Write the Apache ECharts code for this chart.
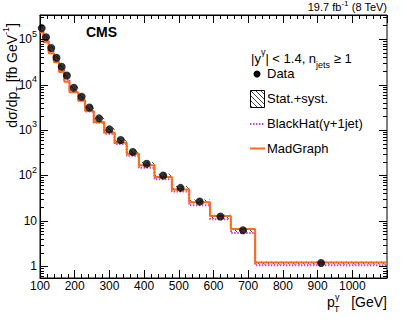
<!DOCTYPE html>
<html><head><meta charset="utf-8">
<script src="https://cdn.jsdelivr.net/npm/echarts@6/dist/echarts.min.js"></script>
<style>html,body{margin:0;padding:0;background:#fff}#c{width:407px;height:322px}</style>
</head><body><div id="c"></div>
<script>
// ---- data ----
const binEdges = [100,110,125,140,155,170,185,210,230,255,285,315,350,385,430,480,530,590,650,720,1100];
const dataXsec = [1.75e5,1.10e5,6.4e4,3.9e4,2.46e4,1.58e4,8.5e3,5.4e3,3.13e3,1.80e3,1030,600,326,180,99,53,26.7,12.4,6.2,1.18];
const dataRelErr = [0.10,0.10,0.10,0.10,0.10,0.10,0.10,0.10,0.10,0.10,0.10,0.10,0.10,0.10,0.10,0.10,0.10,0.10,0.10,0.08];
const madgraph = [1.40e5,8.5e4,4.9e4,3.1e4,1.9e4,1.15e4,6.8e3,4.4e3,2.6e3,1.50e3,880,520,300,168,92,49,25.5,12.8,6.6,1.20];
const blackhat = [1.50e5,9.5e4,5.4e4,3.3e4,2.1e4,1.30e4,7.0e3,4.5e3,2.55e3,1.45e3,830,490,270,148,82,44,22,10.8,5.4,1.05];
const xTickLabels = ['100','200','300','400','500','600','700','800','900','1000'];
const yMajorTicks = [1,10,100,1000,10000,100000];

const X_MIN = 100, X_MAX = 1100, Y_MIN = 0.55, Y_MAX = 3.4e5;
const FONT = 'Liberation Sans, Arial, Helvetica, sans-serif';

// hatch pattern
const pc = document.createElement('canvas');
pc.width = 5; pc.height = 5;
const g = pc.getContext('2d');
g.strokeStyle = '#333'; g.lineWidth = 0.9;
g.beginPath(); g.moveTo(-1,-1); g.lineTo(6,6); g.moveTo(-1,4); g.lineTo(1,6); g.moveTo(4,-1); g.lineTo(6,1); g.stroke();
const hatch = {image: pc.toDataURL(), repeat: 'repeat'};

// y tick positions (1..9 x 10^k inside range)
const yTickVals = [];
for (let k = -1; k <= 5; k++) for (let m = 1; m <= 9; m++) { const v = m * Math.pow(10, k); if (v > Y_MIN && v < Y_MAX) yTickVals.push(v); }
const isMajor = v => yMajorTicks.some(t => Math.abs(t - v) / t < 1e-9);

const n = dataXsec.length;
const stepData = arr => binEdges.map((e, i) => [e, arr[Math.min(i, n - 1)]]);

const chart = echarts.init(document.getElementById('c'), null, {renderer: 'svg'});
const supRich = {
  b: {fontSize: 12, lineHeight: 20, fontFamily: FONT, color: '#000'},
  s: {fontSize: 9, lineHeight: 10, verticalAlign: 'top', fontFamily: FONT, color: '#000'}
};
chart.setOption({
  animation: false,
  textStyle: {fontFamily: FONT},
  grid: {left: 40, right: 20, top: 15, bottom: 44, show: true, borderColor: '#000', borderWidth: 1, containLabel: false},
  xAxis: [{
    type: 'value', min: X_MIN, max: X_MAX, interval: 100, position: 'bottom',
    axisLine: {show: true, lineStyle: {color: '#000', width: 1}},
    axisTick: {show: true, inside: true, length: 8, lineStyle: {color: '#000'}},
    minorTick: {show: true, splitNumber: 5, length: 4, lineStyle: {color: '#000'}},
    splitLine: {show: false},
    axisLabel: {show: true, margin: 2, fontSize: 12, color: '#000', fontFamily: FONT, showMaxLabel: false,
      formatter: v => xTickLabels.includes(String(v)) ? String(v) : ''}
  }, {
    type: 'value', min: X_MIN, max: X_MAX, interval: 100, position: 'top',
    axisLine: {show: true, lineStyle: {color: '#000', width: 1}},
    axisTick: {show: true, inside: true, length: 8, lineStyle: {color: '#000'}},
    minorTick: {show: true, splitNumber: 5, length: 4, lineStyle: {color: '#000'}},
    splitLine: {show: false}, axisLabel: {show: false}
  }],
  yAxis: [{
    type: 'log', logBase: 10, min: Y_MIN, max: Y_MAX,
    axisLine: {show: true, lineStyle: {color: '#000'}},
    axisTick: {show: false}, minorTick: {show: false}, splitLine: {show: false},
    axisLabel: {show: true, margin: 3, color: '#000', fontSize: 12, fontFamily: FONT, showMinLabel: false, showMaxLabel: false,
      formatter: v => {
        const l = Math.log10(v), k = Math.round(l);
        if (Math.abs(l - k) > 1e-6) return '';
        if (k === 0) return '{b|1}';
        if (k === 1) return '{b|10}';
        return '{b|10}{s|' + k + '}';
      },
      rich: supRich
    }
  }],
  series: [
    { // Stat.+syst. hatched band
      type: 'custom', name: 'Stat.+syst.', silent: true, z: 1,
      encode: {x: [0, 1], y: [2, 3]},
      data: dataXsec.map((v, i) => [binEdges[i], binEdges[i + 1], v * (1 - dataRelErr[i]), v * (1 + dataRelErr[i])]),
      renderItem: (params, api) => {
        const a = api.coord([api.value(0), api.value(3)]);
        const b = api.coord([api.value(1), api.value(2)]);
        return {type: 'rect', shape: {x: a[0], y: a[1], width: b[0] - a[0], height: b[1] - a[1]}, style: {fill: hatch, stroke: null}};
      }
    },
    { // BlackHat
      type: 'line', name: 'BlackHat(γ+1jet)', step: 'end', data: stepData(blackhat), showSymbol: false, z: 2,
      lineStyle: {color: '#c847c8', width: 2, type: [1.5, 1.5]}
    },
    { // MadGraph
      type: 'line', name: 'MadGraph', step: 'end', data: stepData(madgraph), showSymbol: false, z: 3,
      lineStyle: {color: '#ff6a14', width: 2}
    },
    { // Data
      type: 'scatter', name: 'Data', symbol: 'circle', symbolSize: 8, clip: false, z: 5,
      itemStyle: {color: '#000'},
      data: dataXsec.map((v, i) => [(binEdges[i] + binEdges[i + 1]) / 2, v])
    },
    { // y ticks (left + right), ROOT style
      type: 'custom', silent: true, clip: false, z: 6,
      encode: {x: 0, y: 1},
      data: yTickVals.map(v => [X_MIN, v]),
      renderItem: (params, api) => {
        const v = api.value(1);
        const pL = api.coord([X_MIN, v]), pR = api.coord([X_MAX, v]);
        const len = isMajor(v) ? 8 : 4;
        const y = Math.round(pL[1]) + 0.5;
        return {type: 'group', children: [
          {type: 'line', shape: {x1: pL[0], y1: y, x2: pL[0] + len, y2: y}, style: {stroke: '#000', lineWidth: 1}},
          {type: 'line', shape: {x1: pR[0], y1: y, x2: pR[0] - len, y2: y}, style: {stroke: '#000', lineWidth: 1}}
        ]};
      }
    }
  ],
  graphic: [
    {type: 'text', x: 387, y: 7, style: {text: '{b|19.7 fb}{s|-1}{b| (8 TeV)}', align: 'right', verticalAlign: 'middle',
      rich: {b: {fontSize: 11, lineHeight: 16, fontFamily: FONT, color: '#000'}, s: {fontSize: 8, lineHeight: 8, verticalAlign: 'top', fontFamily: FONT, color: '#000'}}}},
    {type: 'text', x: 86, y: 32, style: {text: 'CMS', fontSize: 14, fontWeight: 'bold', fontFamily: FONT, fill: '#000', verticalAlign: 'middle'}},
    {type: 'text', x: 251, y: 58, style: {text: '{b||y}{s|γ}{b|| < 1.4, n}{u|jets}{b| ≥ 1}', verticalAlign: 'middle',
      rich: {b: {fontSize: 13, lineHeight: 22, fontFamily: FONT, color: '#000'},
             s: {fontSize: 9, lineHeight: 10, verticalAlign: 'top', fontFamily: FONT, color: '#000'},
             u: {fontSize: 9, lineHeight: 10, verticalAlign: 'bottom', fontFamily: FONT, color: '#000'}}}},
    {type: 'circle', shape: {cx: 257, cy: 74, r: 3.5}, style: {fill: '#000'}},
    {type: 'text', x: 267, y: 73, style: {text: 'Data', fontSize: 13, fontFamily: FONT, fill: '#000', verticalAlign: 'middle'}},
    {type: 'rect', shape: {x: 250.5, y: 90.5, width: 14, height: 17}, style: {fill: hatch, stroke: '#000', lineWidth: 1}},
    {type: 'text', x: 267, y: 98, style: {text: 'Stat.+syst.', fontSize: 13, fontFamily: FONT, fill: '#000', verticalAlign: 'middle'}},
    {type: 'line', shape: {x1: 250, y1: 124, x2: 265, y2: 124}, style: {stroke: '#c847c8', lineWidth: 2, lineDash: [1.5, 1.5]}},
    {type: 'text', x: 267, y: 123, style: {text: 'BlackHat(γ+1jet)', fontSize: 13, fontFamily: FONT, fill: '#000', verticalAlign: 'middle'}},
    {type: 'line', shape: {x1: 250, y1: 148.5, x2: 265, y2: 148.5}, style: {stroke: '#ff6a14', lineWidth: 2}},
    {type: 'text', x: 267, y: 148, style: {text: 'MadGraph', fontSize: 13, fontFamily: FONT, fill: '#000', verticalAlign: 'middle'}},
    // y-axis title (rotated)
    {type: 'text', x: 12, y: 23, rotation: Math.PI / 2, style: {text: '{b|dσ/dp}{u|T}{b| [fb GeV}{s|-1}{b|]}', align: 'right', verticalAlign: 'middle',
      rich: {b: {fontSize: 14, lineHeight: 22, fontFamily: FONT, color: '#000'},
             s: {fontSize: 9, lineHeight: 10, verticalAlign: 'top', fontFamily: FONT, color: '#000'},
             u: {fontSize: 9, lineHeight: 10, verticalAlign: 'bottom', fontFamily: FONT, color: '#000'}}}},
    // x-axis title
    {type: 'text', x: 327, y: 302, style: {text: 'p', fontSize: 14, fontFamily: FONT, fill: '#000', verticalAlign: 'middle'}},
    {type: 'text', x: 335, y: 297, style: {text: 'γ', fontSize: 9, fontFamily: FONT, fill: '#000', verticalAlign: 'middle'}},
    {type: 'text', x: 334, y: 309, style: {text: 'T', fontSize: 9, fontFamily: FONT, fill: '#000', verticalAlign: 'middle'}},
    {type: 'text', x: 387, y: 302, style: {text: '[GeV]', fontSize: 14, fontFamily: FONT, fill: '#000', align: 'right', verticalAlign: 'middle'}}
  ]
});
</script>
</body></html>
